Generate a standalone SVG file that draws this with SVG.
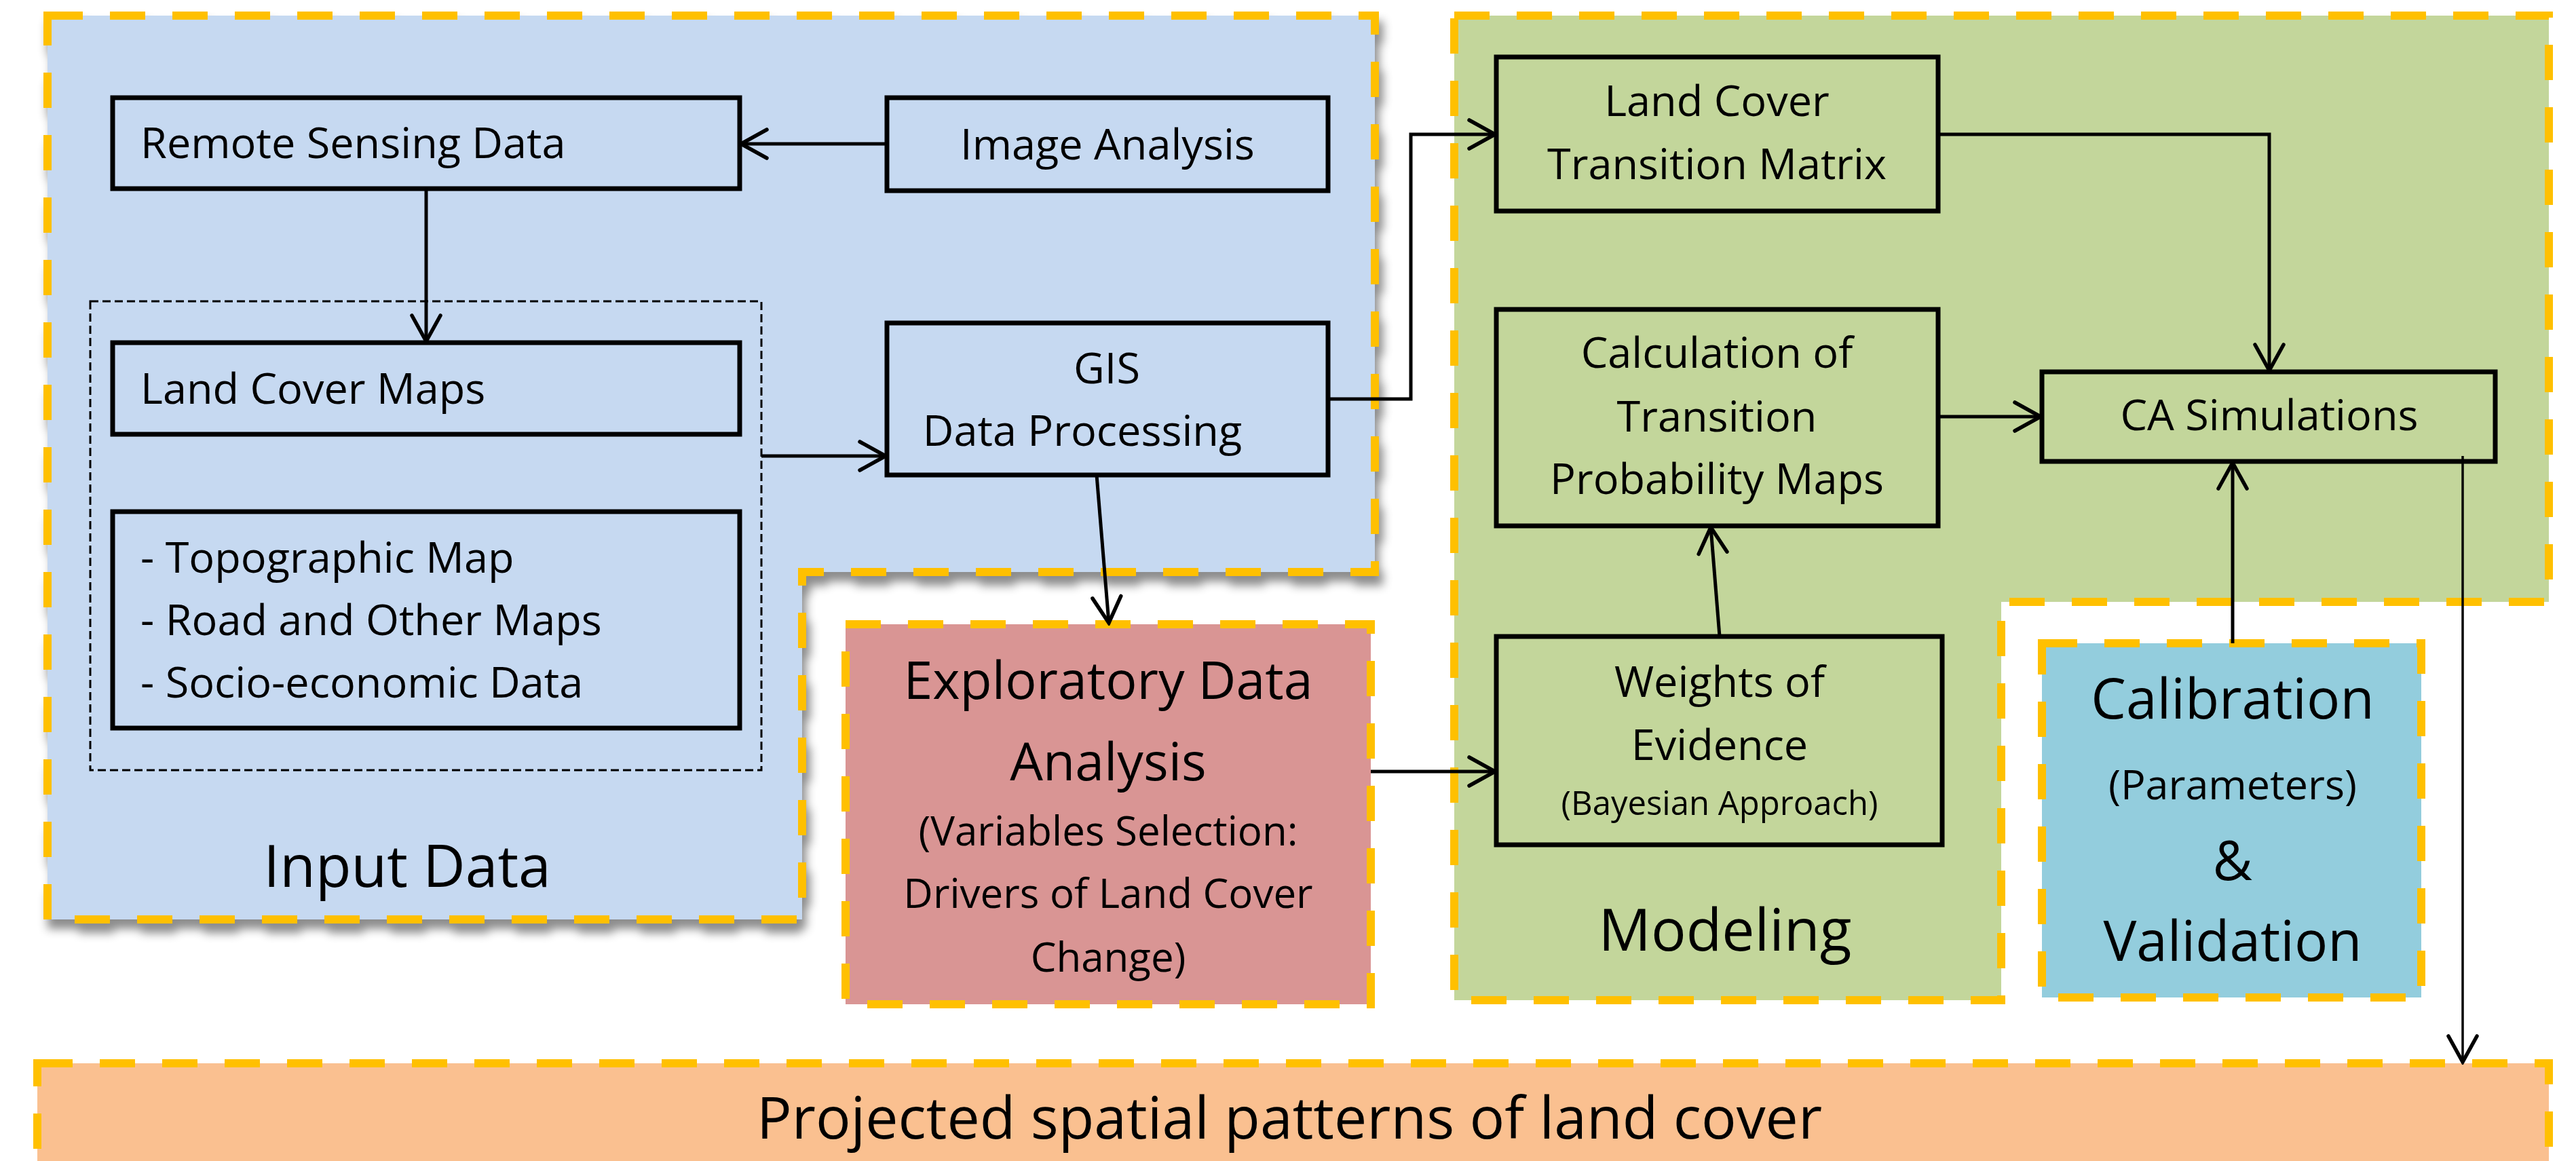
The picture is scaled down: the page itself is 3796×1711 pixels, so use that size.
<svg xmlns="http://www.w3.org/2000/svg" width="3796" height="1711" viewBox="0 0 3796 1711">
  <style>
    text { font-family: "Open Sans", "Liberation Sans", sans-serif; fill: #000; }
    .region { stroke: #FFC000; stroke-width: 12; stroke-dasharray: 52 40; }
    .box { fill: none; stroke: #000; stroke-width: 7; }
    .lbl { font-size: 63px; }
    .mid { text-anchor: middle; }
    .big { font-size: 86px; }
    .conn { fill: none; stroke: #000; stroke-width: 5; marker-end: url(#arrow); }
    .thin { stroke-width: 3.5; }
  </style>
  <defs>
    <marker id="arrow" markerUnits="userSpaceOnUse" viewBox="-44 -26 48 52" markerWidth="48" markerHeight="52" refX="0" refY="0" orient="auto">
      <path d="M -38 -21 L 0 0 L -38 21" fill="none" stroke="#000" stroke-width="5.5" stroke-linecap="round" stroke-linejoin="miter"/>
    </marker>
    <filter id="shadow" x="-5%" y="-5%" width="112%" height="115%">
      <feDropShadow dx="6" dy="14" stdDeviation="7" flood-color="#000" flood-opacity="0.45"/>
    </filter>
  </defs>

  <rect width="3796" height="1711" fill="#fff"/>

  <!-- Input data panel (notched) -->
  <g id="input-data">
    <path class="region" filter="url(#shadow)" fill="#C6D9F1" d="M 70 23 L 2026 23 L 2026 843 L 1182 843 L 1182 1355 L 70 1355 Z"/>
    <text class="big mid" x="600" y="1307">Input Data</text>
  </g>

  <!-- Modeling panel (notched) -->
  <g id="modeling">
    <path class="region" fill="#C3D69B" d="M 2143 23 L 3756 23 L 3756 887 L 2949 887 L 2949 1474 L 2143 1474 Z"/>
    <text class="big mid" x="2542" y="1401">Modeling</text>
  </g>

  <!-- Exploratory data analysis -->
  <g id="exploratory">
    <rect class="region" fill="#D99594" x="1246" y="920" width="774" height="560"/>
    <text class="mid" x="1633" y="1030" font-size="77">Exploratory Data</text>
    <text class="mid" x="1633" y="1150" font-size="77">Analysis</text>
    <text class="mid" x="1633" y="1246" font-size="60">(Variables Selection:</text>
    <text class="mid" x="1633" y="1338" font-size="60">Drivers of Land Cover</text>
    <text class="mid" x="1633" y="1432" font-size="60">Change)</text>
  </g>

  <!-- Calibration and validation -->
  <g id="calibration">
    <rect class="region" fill="#93CDDD" x="3009" y="948" width="559" height="522"/>
    <text class="mid" x="3290" y="1059" font-size="82">Calibration</text>
    <text class="mid" x="3290" y="1178" font-size="61">(Parameters)</text>
    <text class="mid" x="3290" y="1297" font-size="80">&amp;</text>
    <text class="mid" x="3290" y="1416" font-size="82">Validation</text>
  </g>

  <!-- Output bar -->
  <g id="projected">
    <rect class="region" fill="#FAC090" x="55" y="1567" width="3701" height="180"/>
    <text x="1115" y="1678" font-size="86">Projected spatial patterns of land cover</text>
  </g>

  <!-- Input data nodes -->
  <g id="remote-sensing">
    <rect class="box" x="166" y="144" width="924" height="134"/>
    <text class="lbl" x="207" y="233">Remote Sensing Data</text>
  </g>
  <g id="image-analysis">
    <rect class="box" x="1307" y="144" width="650" height="137"/>
    <text class="lbl mid" x="1632" y="235">Image Analysis</text>
  </g>
  <g id="map-group">
    <rect x="133" y="444" width="989" height="691" fill="none" stroke="#000" stroke-width="3" stroke-dasharray="12 6"/>
  </g>
  <g id="land-cover-maps">
    <rect class="box" x="166" y="505" width="924" height="135"/>
    <text class="lbl" x="207" y="595">Land Cover Maps</text>
  </g>
  <g id="ancillary-maps">
    <rect class="box" x="166" y="754" width="924" height="319"/>
    <text class="lbl" x="207" y="844">- Topographic Map</text>
    <text class="lbl" x="207" y="936">- Road and Other Maps</text>
    <text class="lbl" x="207" y="1028">- Socio-economic Data</text>
  </g>
  <g id="gis">
    <rect class="box" x="1307" y="476" width="650" height="224"/>
    <text class="lbl mid" x="1631" y="565">GIS</text>
    <text class="lbl mid" x="1595" y="657">Data Processing</text>
  </g>

  <!-- Modeling nodes -->
  <g id="transition-matrix">
    <rect class="box" x="2205" y="84" width="651" height="227"/>
    <text class="lbl mid" x="2530" y="171">Land Cover</text>
    <text class="lbl mid" x="2530" y="264">Transition Matrix</text>
  </g>
  <g id="probability-maps">
    <rect class="box" x="2205" y="456" width="651" height="319"/>
    <text class="lbl mid" x="2530" y="542">Calculation of</text>
    <text class="lbl mid" x="2530" y="636">Transition</text>
    <text class="lbl mid" x="2530" y="728">Probability Maps</text>
  </g>
  <g id="ca-simulations">
    <rect class="box" x="3009" y="548" width="668" height="132"/>
    <text class="lbl mid" x="3344" y="634">CA Simulations</text>
  </g>
  <g id="weights-of-evidence">
    <rect class="box" x="2205" y="938" width="657" height="307"/>
    <text class="lbl mid" x="2534" y="1027">Weights of</text>
    <text class="lbl mid" x="2534" y="1120">Evidence</text>
    <text class="mid" x="2534" y="1201" font-size="49">(Bayesian Approach)</text>
  </g>

  <!-- Connectors -->
  <g id="connectors">
    <path class="conn" d="M 1307 212 L 1092 212"/>
    <path class="conn" d="M 628 278 L 628 503"/>
    <path class="conn" d="M 1122 672 L 1305 672"/>
    <path class="conn" d="M 1957 588 L 2079 588 L 2079 198 L 2203 198"/>
    <path class="conn" d="M 1616 700 L 1634 918"/>
    <path class="conn" d="M 2856 198 L 3344 198 L 3344 546"/>
    <path class="conn" d="M 2856 614 L 3007 614"/>
    <path class="conn" d="M 2020 1137 L 2203 1137"/>
    <path class="conn" d="M 2534 938 L 2521 777"/>
    <path class="conn" d="M 3290 948 L 3290 682"/>
    <path class="conn thin" d="M 3629 672 L 3629 1565"/>
  </g>
</svg>
